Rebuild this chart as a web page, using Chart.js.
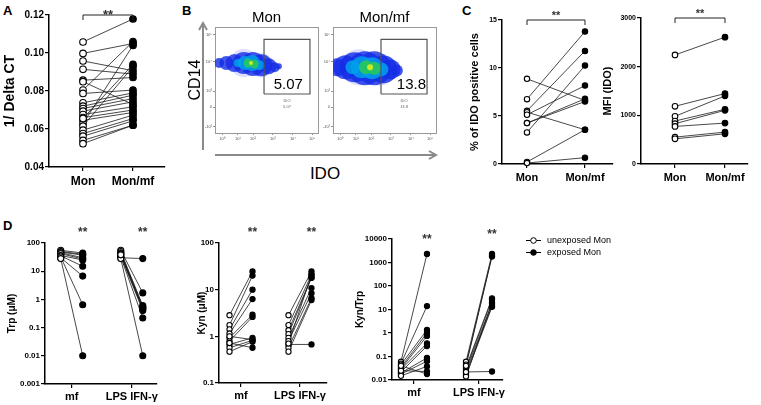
<!DOCTYPE html>
<html><head><meta charset="utf-8">
<script src="https://cdn.jsdelivr.net/npm/chart.js@4"></script>
<style>
html,body{margin:0;padding:0;background:#fff;}
#wrap{position:relative;width:761px;height:405px;overflow:hidden;font-family:"Liberation Sans",Arial,sans-serif;}
#wrap canvas{position:absolute;left:0;top:0;}
.lbl{position:absolute;font-weight:bold;font-size:13px;line-height:13px;color:#000;}
</style></head><body>
<div id="wrap">
<div class="lbl" style="left:3px;top:4px">A</div>
<div class="lbl" style="left:182px;top:4px">B</div>
<div class="lbl" style="left:462px;top:4px">C</div>
<div class="lbl" style="left:3px;top:219px">D</div>
<div style="position:absolute;left:285px;top:165px;width:80px;text-align:center;font-size:17px;line-height:17px;">IDO</div>
</div>
<script>
// ---------- DATA ----------
const abCats = ['Mon', 'Mon/mf'];
const dCats = ['mf', 'LPS IFN-γ'];
const legendNames = ['unexposed Mon', 'exposed Mon'];

// Panel A
const aYTicks = [0.04, 0.06, 0.08, 0.10, 0.12];
const aYLabels = ['0.04', '0.06', '0.08', '0.10', '0.12'];
const aMon   = [0.1058,0.0998,0.0958,0.0914,0.0857,0.0849,0.0805,0.0787,0.0738,0.0720,0.0708,0.0694,0.0676,0.0660,0.0646,0.0629,0.0615,0.0594,0.0576,0.0562,0.0540,0.0523,0.0655];
const aMonMf = [0.1179,0.1050,0.0907,0.0889,0.0871,0.0729,0.1060,0.0805,0.0790,0.0778,0.0760,0.0743,0.0717,0.0700,0.0687,0.1040,0.0928,0.0673,0.0655,0.0643,0.0620,0.0620,0.0940];

// Panel B (flow cytometry)
const flowXPos = [6.8, 22.3, 36.9, 56.3, 75.7, 94.2];
const flowXLabels = ['10⁰', '10¹', '10²', '10³', '10⁴', '10⁵'];
const flowYPos = [5.7, 24.5, 39.6, 67, 92.5];
const flowYLabels = ['-10³', '0', '10³', '10⁴', '10⁵'];
const flowPct = ['5.07', '13.8'];
const monGate = [47.6, 92.2, 36.8, 88.4];
const mfGate  = [46.6, 91.3, 36.8, 88.4];
const monHalo   = [[28,66,14],[45,64,12]];
const monBlue   = [[4,66,5],[11,66,7],[19,66,9],[28,66,11],[37,65,12],[45,64,11],[52,63,8],[58,62,5],[62,63,3]];
const monCyan   = [[22,66,4],[29,66,7],[36,66,8],[43,64,5]];
const monGreen  = [[32,66,4.5],[38,65,4.5]];
const monYellow = [[35,66,2]];
const mfHalo    = [[25,62,18],[45,60,16]];
const mfBlue    = [[4,62,9],[12,62,12],[21,62,15],[31,61,17],[40,61,17],[49,60,14],[56,60,10],[62,59,6]];
const mfCyan    = [[19,62,7],[28,62,11],[38,61,11],[47,60,7]];
const mfGreen   = [[32,62,7],[40,61,6.5]];
const mfYellow  = [[36,62,3]];

// Panel C
const cYTicks = [0, 5, 10, 15];
const cYLabels = ['0', '5', '10', '15'];
const cMon   = [8.87, 6.75, 5.54, 5.40, 5.13, 4.26, 4.26, 3.29, 0.21, 0.10];
const cMonMf = [6.62, 13.8, 11.78, 3.57, 8.17, 6.79, 6.51, 10.25, 3.57, 0.66];
const mfiYTicks = [0, 1000, 2000, 3000];
const mfiYLabels = ['0', '1000', '2000', '3000'];
const mfiMon   = [2241, 1186, 979, 883, 828, 772, 552, 517];
const mfiMonMf = [2607, 1448, 1400, 1124, 1103, 841, 655, 621];

// Panel D
const trpYTicks = [0.001, 0.01, 0.1, 1, 10, 100];
const trpYLabels = ['0.001', '0.01', '0.1', '1', '10', '100'];
const trpMfU  = [55, 50, 48, 45, 42, 36, 35, 30, 32, 28];
const trpMfE  = [44, 40, 37, 30, 27, 25, 15, 6.7, 0.65, 0.01];
const trpLpsU = [55, 50, 45, 42, 40, 35, 32, 30, 28, 38];
const trpLpsE = [1.7, 0.6, 0.55, 0.5, 0.45, 0.4, 0.22, 28, 0.01, 0.5];

const kynYTicks = [0.1, 1, 10, 100];
const kynYLabels = ['0.1', '1', '10', '100'];
const kynMfU  = [2.84, 1.74, 1.41, 1.15, 0.93, 0.79, 0.67, 0.57, 0.47, 0.72, 1.0];
const kynMfE  = [24.5, 20, 10, 6.3, 2.9, 2.6, 0.93, 0.82, 0.77, 0.57, 0.85];
const kynLpsU = [2.84, 1.74, 1.35, 1.12, 0.93, 0.79, 0.67, 0.57, 0.47, 0.7];
const kynLpsE = [24.5, 21, 18, 18, 10.8, 8.4, 0.67, 6.6, 6.0, 21];

const ktYTicks = [0.01, 0.1, 1, 10, 100, 1000, 10000];
const ktYLabels = ['0.01', '0.1', '1', '10', '100', '1000', '10000'];
const ktMfU  = [0.06, 0.05, 0.045, 0.035, 0.03, 0.028, 0.022, 0.02, 0.018, 0.015, 0.025, 0.04];
const ktMfE  = [2300, 14, 1.35, 1.0, 0.75, 0.36, 0.28, 0.087, 0.063, 0.038, 0.023, 0.018];
const ktLpsU = [0.06, 0.045, 0.035, 0.03, 0.025, 0.02, 0.016, 0.014, 0.04, 0.022];
const ktLpsE = [2300, 1950, 30, 26, 17.5, 14, 13, 20, 1800, 0.023];

// ---------- SETUP ----------
const FONT = '"Liberation Sans", Arial, sans-serif';
Chart.defaults.font.family = FONT;
Chart.defaults.color = '#000';
Chart.defaults.animation = false;
Chart.defaults.events = [];
Chart.defaults.plugins.legend.display = false;
Chart.defaults.plugins.tooltip.enabled = false;
const wrap = document.getElementById('wrap');
function mk() {
  const c = document.createElement('canvas');
  c.width = 761; c.height = 405;
  c.style.width = '761px'; c.style.height = '405px';
  wrap.appendChild(c);
  return c;
}

function drawMarks(chart, o) {
  const ctx = chart.ctx, xs = chart.scales.x;
  ctx.save();
  (o.brackets || []).forEach(b => {
    const x1 = xs.getPixelForValue(b.x1), x2 = xs.getPixelForValue(b.x2);
    ctx.strokeStyle = '#222'; ctx.lineWidth = 1;
    ctx.beginPath(); ctx.moveTo(x1, b.y + b.h); ctx.lineTo(x1, b.y); ctx.lineTo(x2, b.y); ctx.lineTo(x2, b.y + b.h); ctx.stroke();
  });
  (o.stars || []).forEach(s => {
    ctx.font = 'bold ' + s.size + 'px ' + FONT;
    ctx.fillStyle = '#333'; ctx.textAlign = 'center'; ctx.textBaseline = 'alphabetic';
    ctx.fillText('**', xs.getPixelForValue(s.x), s.y + 0.57 * s.size);
  });
  if (o.legend) {
    const L = o.legend;
    ctx.font = L.size + 'px ' + FONT; ctx.textAlign = 'left'; ctx.textBaseline = 'middle';
    legendNames.forEach((n, i) => {
      const y = L.y + i * L.dy;
      ctx.strokeStyle = '#000'; ctx.lineWidth = 1;
      ctx.beginPath(); ctx.moveTo(L.x, y); ctx.lineTo(L.x + 15, y); ctx.stroke();
      ctx.beginPath(); ctx.arc(L.x + 7.5, y, 2.8, 0, Math.PI * 2);
      ctx.fillStyle = i === 0 ? '#fff' : '#000'; ctx.fill(); ctx.stroke();
      ctx.fillStyle = '#000'; ctx.fillText(n, L.x + 21, y);
    });
  }
  ctx.restore();
}

function paired(o) {
  const cv = mk();
  const ds = [], openPts = [], fillPts = [];
  o.groups.forEach(g => {
    g.u.forEach((v, i) => {
      openPts.push({x: g.xu, y: v});
      fillPts.push({x: g.xe, y: g.e[i]});
      ds.push({data: [{x: g.xu, y: v}, {x: g.xe, y: g.e[i]}], showLine: true, pointRadius: 0,
               borderColor: '#1a1a1a', borderWidth: 0.8, order: 2, clip: false});
    });
  });
  ds.push({data: openPts, pointRadius: o.r, backgroundColor: '#fff', borderColor: '#000',
           pointBackgroundColor: '#fff', pointBorderColor: '#000', pointBorderWidth: 1.1, order: 1, clip: false});
  ds.push({data: fillPts, pointRadius: o.r, backgroundColor: '#000', borderColor: '#000',
           pointBackgroundColor: '#000', pointBorderColor: '#000', pointBorderWidth: 1.1, order: 0, clip: false});
  const P = o.titleX - 0.6 * o.yTitleSize;
  const W = o.area[0] - P;
  const H = o.xH || 26;
  const gridOpt = {drawOnChartArea: false, drawTicks: true, tickLength: 4, color: '#000', lineWidth: 1.2};
  const borderOpt = {display: true, color: '#000', width: 1.5};
  return new Chart(cv, {
    type: 'scatter',
    data: {datasets: ds},
    options: {
      responsive: false, maintainAspectRatio: false, devicePixelRatio: 1,
      layout: {padding: {left: P, top: o.area[1], right: 761 - o.area[2], bottom: 405 - o.area[3] - H}},
      scales: {
        x: {type: 'linear', min: o.xMin, max: o.xMax,
            afterBuildTicks: s => { s.ticks = o.catPos.map(v => ({value: v})); },
            ticks: {autoSkip: false, maxRotation: 0, minRotation: 0, padding: o.xPad, font: {size: o.xTickSize, weight: 'bold'},
                    callback: (v, i) => o.cats[i]},
            grid: gridOpt, border: borderOpt,
            afterFit: s => { s.height = H; }},
        y: {type: o.yType, min: o.yMin, max: o.yMax,
            afterBuildTicks: s => { s.ticks = o.yTicks.map(v => ({value: v})); },
            ticks: {autoSkip: false, padding: 1, font: {size: o.yTickSize, weight: 'bold'},
                    callback: (v, i) => o.yLabels[i]},
            grid: gridOpt, border: borderOpt,
            title: {display: true, text: o.yTitle, font: {size: o.yTitleSize, weight: 'bold'}, padding: 0, color: '#000'},
            afterFit: s => { s.width = W; }}
      }
    },
    plugins: [{id: 'marks', afterDraw: ch => drawMarks(ch, o)}]
  });
}

function flow(o) {
  const cv = mk();
  const W = o.W;
  const P = o.area[0] - W;
  const layers = [
    {pts: o.halo, color: 'rgba(60,80,250,0.18)'},
    {pts: o.blue, color: 'rgba(20,45,230,0.8)'},
    {pts: o.cyan, color: 'rgba(0,160,235,0.85)'},
    {pts: o.green, color: 'rgba(40,200,90,0.9)'},
    {pts: o.yellow, color: 'rgba(200,235,40,1)'}
  ];
  const ds = layers.map((L, i) => ({type: 'bubble', data: L.pts.map(p => ({x: p[0], y: p[1], r: p[2]})),
    backgroundColor: L.color, borderWidth: 0, order: 10 - i}));
  const g = o.gate;
  ds.push({type: 'scatter', data: [{x: g[0], y: g[2]}, {x: g[1], y: g[2]}, {x: g[1], y: g[3]}, {x: g[0], y: g[3]}, {x: g[0], y: g[2]}],
    showLine: true, pointRadius: 0, borderColor: '#555', borderWidth: 1.2, order: 0, clip: false});
  const tickGrid = {drawOnChartArea: false, drawTicks: true, tickLength: 2, color: '#777', lineWidth: 0.8};
  const bord = {display: true, color: '#9a9a9a', width: 1};
  return new Chart(cv, {
    type: 'bubble',
    data: {datasets: ds},
    options: {
      responsive: false, maintainAspectRatio: false, devicePixelRatio: 1,
      layout: {padding: {left: P, top: 9, right: 761 - o.area[2], bottom: 405 - o.area[3] - 10}},
      plugins: {title: {display: true, text: o.title, fullSize: false, font: {size: 15, weight: 'normal'}, padding: {top: 0, bottom: 0}, color: '#000'}},
      scales: {
        x: {type: 'linear', min: 0, max: 100,
            afterBuildTicks: s => { s.ticks = flowXPos.map(v => ({value: v})); },
            ticks: {autoSkip: false, maxRotation: 0, padding: 1, font: {size: 4}, color: '#555', callback: (v, i) => flowXLabels[i]},
            grid: tickGrid, border: bord, afterFit: s => { s.height = 10; }},
        x2: {type: 'linear', position: 'top', min: 0, max: 100, ticks: {display: false}, grid: {display: false},
            border: bord, afterFit: s => { s.height = 0; }},
        y: {type: 'linear', min: 0, max: 100,
            afterBuildTicks: s => { s.ticks = flowYPos.map(v => ({value: v})); },
            ticks: {autoSkip: false, padding: 1, font: {size: 4}, color: '#555', callback: (v, i) => flowYLabels[i]},
            grid: tickGrid, border: bord,
            title: {display: !!o.yTitle, text: o.yTitle || '', font: {size: 16, weight: 'normal'}, padding: 0, color: '#000'},
            afterFit: s => { s.width = W; }},
        y2: {type: 'linear', position: 'right', min: 0, max: 100, ticks: {display: false}, grid: {display: false},
            border: bord, afterFit: s => { s.width = 0; }}
      }
    },
    plugins: [{id: 'flowtext', afterDraw: ch => {
      const ctx = ch.ctx, xs = ch.scales.x, ys = ch.scales.y;
      const gx1 = xs.getPixelForValue(g[0]), gx2 = xs.getPixelForValue(g[1]), gyb = ys.getPixelForValue(g[2]);
      ctx.save();
      ctx.fillStyle = '#000'; ctx.font = '15px ' + FONT; ctx.textAlign = 'right'; ctx.textBaseline = 'alphabetic';
      ctx.fillText(o.pct, gx2 - o.pctDx, gyb - 5);
      ctx.fillStyle = '#666'; ctx.font = '4px ' + FONT; ctx.textAlign = 'center';
      ctx.fillText('IDO', (gx1 + gx2) / 2, gyb + 8);
      ctx.fillText(o.pct, (gx1 + gx2) / 2, gyb + 14);
      if (o.arrows) {
        ctx.strokeStyle = '#8a8a8a'; ctx.lineWidth = 2;
        ctx.beginPath(); ctx.moveTo(203, 150); ctx.lineTo(203, 24); ctx.stroke();
        ctx.beginPath(); ctx.moveTo(199, 30); ctx.lineTo(203, 23); ctx.lineTo(207, 30); ctx.stroke();
        ctx.beginPath(); ctx.moveTo(215, 155); ctx.lineTo(435, 155); ctx.stroke();
        ctx.beginPath(); ctx.moveTo(429, 151); ctx.lineTo(436, 155); ctx.lineTo(429, 159); ctx.stroke();
      }
      ctx.restore();
    }}]
  });
}

// ---------- CHARTS ----------
paired({area: [49, 15, 165, 167], titleX: 10, yTitle: '1/ Delta CT', yTitleSize: 14,
  yType: 'linear', yMin: 0.04, yMax: 0.12, yTicks: aYTicks, yLabels: aYLabels, yTickSize: 10,
  xMin: -0.68, xMax: 1.64, catPos: [0, 1], cats: abCats, xTickSize: 12, xPad: 3, xH: 30,
  groups: [{xu: 0, xe: 1, u: aMon, e: aMonMf}], r: 3.3,
  brackets: [{x1: 0, x2: 1, y: 15, h: 5}], stars: [{x: 0.5, y: 11.5, size: 13}]});

flow({area: [215, 27, 318, 133], W: 29, title: abCats[0], yTitle: 'CD14', gate: monGate, pct: flowPct[0], pctDx: 7,
  halo: monHalo, blue: monBlue, cyan: monCyan, green: monGreen, yellow: monYellow, arrows: true});
flow({area: [333, 27, 436, 133], W: 13, title: abCats[1], gate: mfGate, pct: flowPct[1], pctDx: 1,
  halo: mfHalo, blue: mfBlue, cyan: mfCyan, green: mfGreen, yellow: mfYellow});

paired({area: [502, 20, 613, 164], titleX: 475, yTitle: '% of IDO positive cells', yTitleSize: 11,
  yType: 'linear', yMin: 0, yMax: 15, yTicks: cYTicks, yLabels: cYLabels, yTickSize: 7,
  xMin: -0.431, xMax: 1.483, catPos: [0, 1], cats: abCats, xTickSize: 11, xPad: 3, xH: 28,
  groups: [{xu: 0, xe: 1, u: cMon, e: cMonMf}], r: 2.7,
  brackets: [{x1: 0, x2: 1, y: 20, h: 5}], stars: [{x: 0.5, y: 12.7, size: 11}]});

paired({area: [641, 18, 748, 164], titleX: 608, yTitle: 'MFI (IDO)', yTitleSize: 11,
  yType: 'linear', yMin: 0, yMax: 3000, yTicks: mfiYTicks, yLabels: mfiYLabels, yTickSize: 7,
  xMin: -0.68, xMax: 1.46, catPos: [0, 1], cats: abCats, xTickSize: 11, xPad: 3, xH: 28,
  groups: [{xu: 0, xe: 1, u: mfiMon, e: mfiMonMf}], r: 2.8,
  brackets: [{x1: 0, x2: 1, y: 18, h: 5}], stars: [{x: 0.5, y: 10.5, size: 11}]});

paired({area: [45, 243, 157, 384], titleX: 12, yTitle: 'Trp (μM)', yTitleSize: 10,
  yType: 'logarithmic', yMin: 0.001, yMax: 100, yTicks: trpYTicks, yLabels: trpYLabels, yTickSize: 8,
  xMin: -0.445, xMax: 1.42, catPos: [0, 1], cats: dCats, xTickSize: 11, xPad: 2, xH: 20,
  groups: [{xu: -0.183, xe: 0.183, u: trpMfU, e: trpMfE}, {xu: 0.817, xe: 1.183, u: trpLpsU, e: trpLpsE}], r: 3,
  stars: [{x: 0.183, y: 229, size: 12}, {x: 1.183, y: 229, size: 12}]});

paired({area: [219, 243, 327, 383], titleX: 202, yTitle: 'Kyn (μM)', yTitleSize: 10,
  yType: 'logarithmic', yMin: 0.1, yMax: 100, yTicks: kynYTicks, yLabels: kynYLabels, yTickSize: 8,
  xMin: -0.373, xMax: 1.458, catPos: [0, 1], cats: dCats, xTickSize: 11, xPad: 2, xH: 20,
  groups: [{xu: -0.195, xe: 0.195, u: kynMfU, e: kynMfE}, {xu: 0.805, xe: 1.195, u: kynLpsU, e: kynLpsE}], r: 2.6,
  stars: [{x: 0.195, y: 229, size: 12}, {x: 1.195, y: 229, size: 12}]});

paired({area: [392, 239, 503, 380], titleX: 360, yTitle: 'Kyn/Trp', yTitleSize: 10,
  yType: 'logarithmic', yMin: 0.01, yMax: 10000, yTicks: ktYTicks, yLabels: ktYLabels, yTickSize: 8,
  xMin: -0.338, xMax: 1.369, catPos: [0, 1], cats: dCats, xTickSize: 11, xPad: 2, xH: 20,
  groups: [{xu: -0.2, xe: 0.2, u: ktMfU, e: ktMfE}, {xu: 0.8, xe: 1.2, u: ktLpsU, e: ktLpsE}], r: 2.6,
  stars: [{x: 0.2, y: 236, size: 12}, {x: 1.2, y: 231, size: 12}],
  legend: {x: 526, y: 240.5, dy: 12, size: 9}});
</script>
</body></html>
